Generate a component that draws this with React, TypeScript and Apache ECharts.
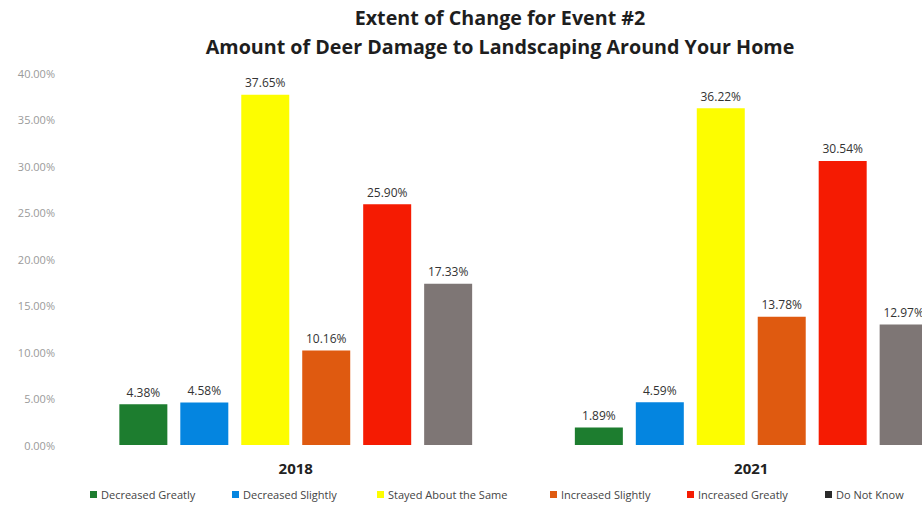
import React, { useEffect, useRef } from "react";
import * as echarts from "echarts";

const titleLines = [
  "Extent of Change for Event #2",
  "Amount of Deer Damage to Landscaping Around Your Home",
];
const years = ["2018", "2021"];
const seriesNames = [
  "Decreased Greatly",
  "Decreased Slightly",
  "Stayed About the Same",
  "Increased Slightly",
  "Increased Greatly",
  "Do Not Know",
];
const decreasedGreatly = [4.38, 1.89];
const decreasedSlightly = [4.58, 4.59];
const stayedSame = [37.65, 36.22];
const increasedSlightly = [10.16, 13.78];
const increasedGreatly = [25.9, 30.54];
const doNotKnow = [17.33, 12.97];
const seriesValues = [
  decreasedGreatly,
  decreasedSlightly,
  stayedSame,
  increasedSlightly,
  increasedGreatly,
  doNotKnow,
];
const colors = ["#1d7d2f", "#0485e0", "#fdfd00", "#df5a10", "#f51b02", "#7e7675"];
const legendIconColors = ["#1d7d2f", "#0485e0", "#fdfd00", "#df5a10", "#f51b02", "#2a2a2a"];
const legendLefts = [90, 232, 377, 550, 687, 825];

const FONT = '"Open Sans", "Liberation Sans", sans-serif';

export default function App() {
  const ref = useRef<HTMLDivElement>(null);
  useEffect(() => {
    if (!ref.current) return;
    const chart = echarts.init(ref.current, null, { renderer: "svg" });
    chart.setOption({
      animation: false,
      backgroundColor: "#ffffff",
      textStyle: { fontFamily: FONT },
      graphic: titleLines.map((t, i) => ({
        type: "text",
        x: 500,
        y: i === 0 ? 17 : 46,
        style: {
          text: t,
          align: "center",
          verticalAlign: "middle",
          fontSize: 19.7,
          fontWeight: "bold",
          fontFamily: FONT,
          fill: "#1e1e1e",
        },
      })),
      legend: seriesNames.map((n, i) => ({
        data: [{ name: n, itemStyle: { color: legendIconColors[i] } }],
        left: legendLefts[i],
        top: 489,
        padding: 0,
        itemWidth: 7,
        itemHeight: 7,
        icon: "rect",
        selectedMode: false,
        textStyle: { fontSize: 11, color: "#444", fontFamily: FONT, padding: [0, 0, 0, -1] },
      })),
      grid: {
        left: 68,
        right: -57,
        top: 73,
        bottom: 65,
        containLabel: false,
        outerBoundsMode: "none",
      },
      xAxis: {
        type: "category",
        data: years,
        axisLine: { show: false },
        axisTick: { show: false },
        axisLabel: {
          fontSize: 15,
          fontWeight: "bold",
          color: "#222",
          margin: 15,
          fontFamily: FONT,
        },
      },
      yAxis: {
        type: "value",
        min: 0,
        max: 40,
        interval: 5,
        axisLine: { show: false },
        axisTick: { show: false },
        splitLine: { show: false },
        axisLabel: {
          formatter: (v: number) => v.toFixed(2) + "%",
          fontSize: 11,
          color: "#9a9a9a",
          margin: 13,
          fontFamily: FONT,
        },
      },
      series: seriesNames.map((n, i) => ({
        name: n,
        type: "bar",
        data: seriesValues[i],
        barWidth: 48,
        barGap: "27%",
        itemStyle: { color: colors[i] },
        label: {
          show: true,
          position: "top",
          distance: 6,
          formatter: (p: any) => Number(p.value).toFixed(2) + "%",
          fontSize: 12,
          color: "#333",
          fontFamily: FONT,
        },
      })),
    });
    return () => chart.dispose();
  }, []);
  return (
    <div
      ref={ref}
      style={{ position: "fixed", left: 0, top: 0, width: 922, height: 510 }}
    />
  );
}
